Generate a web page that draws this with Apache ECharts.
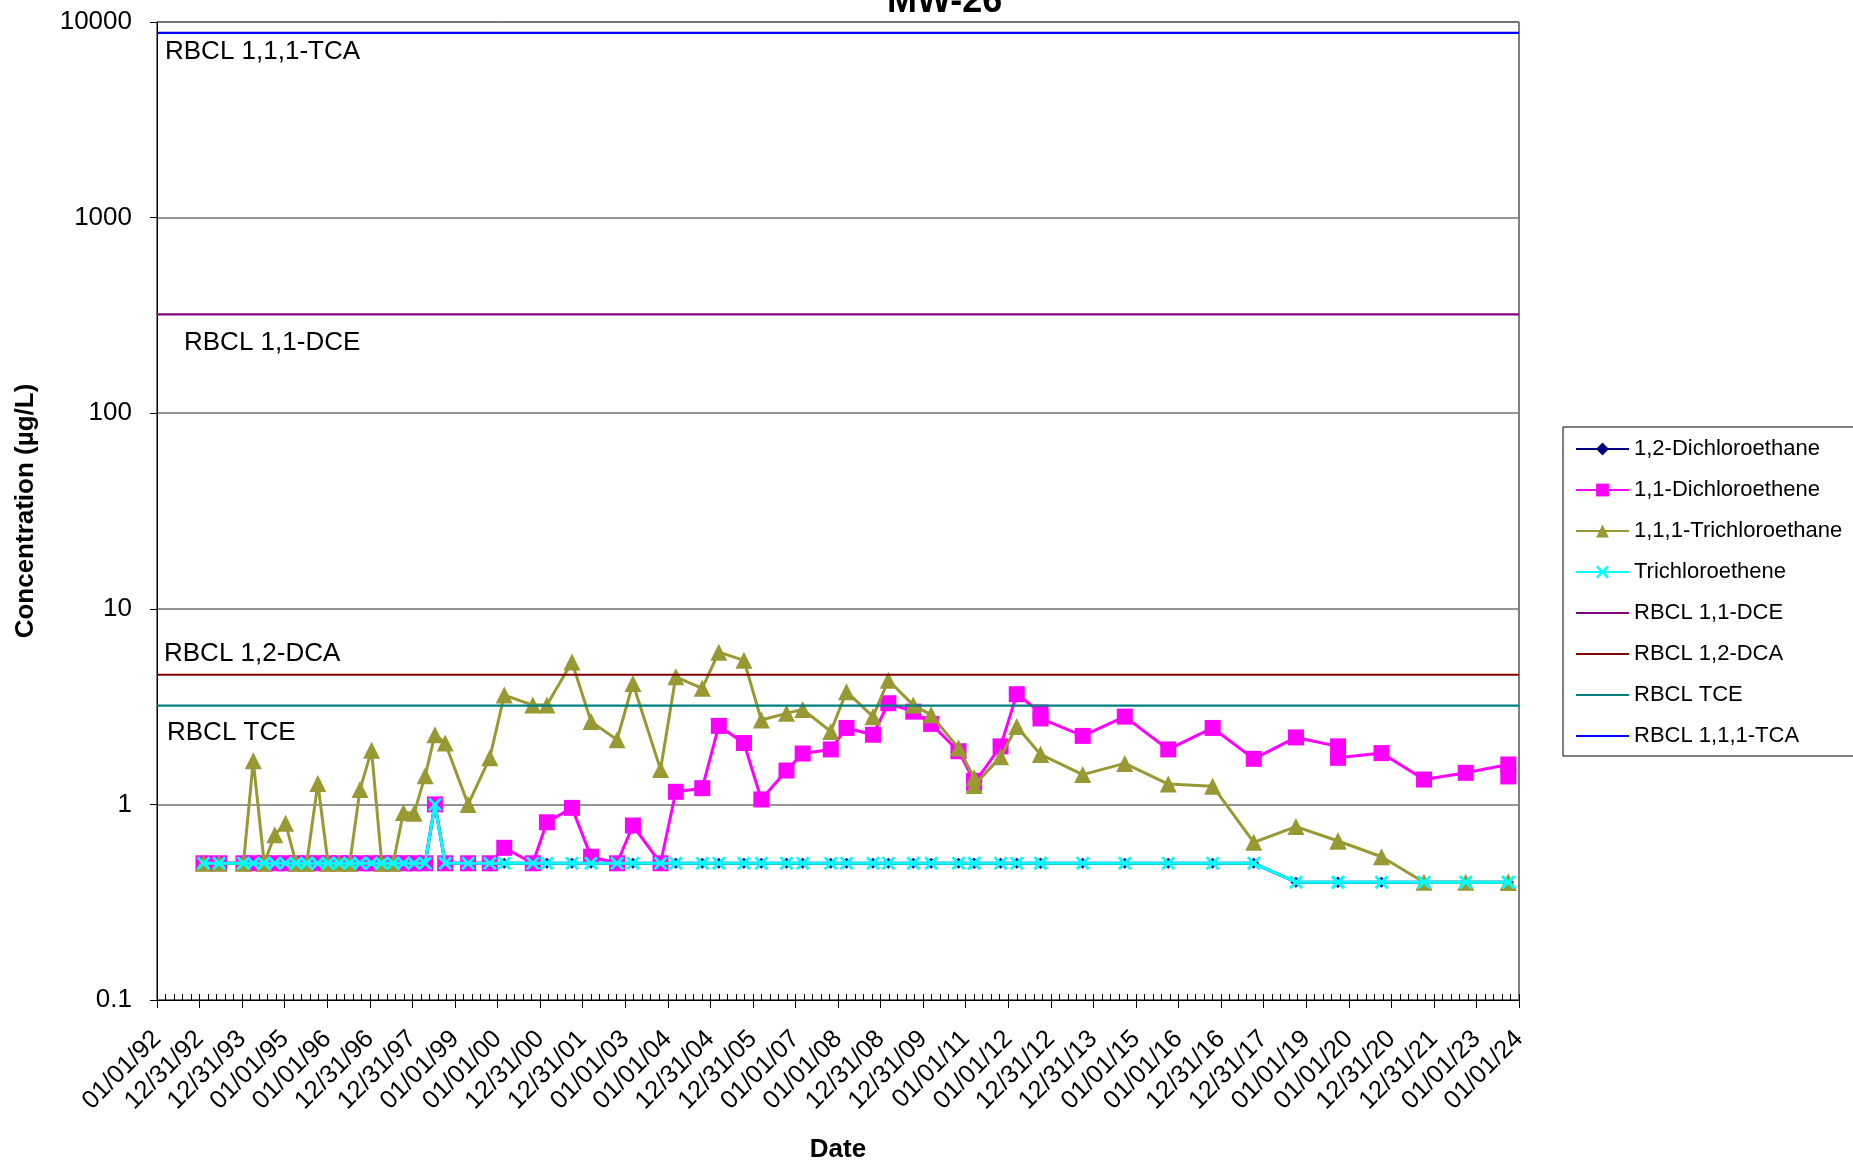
<!DOCTYPE html>
<html><head><meta charset="utf-8">
<script src="https://cdn.jsdelivr.net/npm/echarts@6/dist/echarts.min.js"></script>
<style>html,body{margin:0;padding:0;background:#fff}#c{width:1853px;height:1168px}</style>
</head><body><div id="c"></div>
<script>
// ---------- data ----------
const chartTitle = 'MW-26';
const sampleDates = [
  '1993-02-03','1993-06-17',
  '1994-01-12','1994-04-06','1994-07-09','1994-10-08',
  '1995-01-08','1995-04-09','1995-07-09','1995-10-12',
  '1996-01-08','1996-04-12','1996-07-12','1996-10-08',
  '1997-01-15','1997-04-13','1997-07-19','1997-10-16',
  '1998-01-15','1998-04-20','1998-07-13','1998-10-09',
  '1999-04-24','1999-10-27',
  '2000-02-28','2000-10-30',
  '2001-02-28','2001-10-01',
  '2002-03-14','2002-10-23',
  '2003-03-08','2003-10-31',
  '2004-03-10','2004-10-23',
  '2005-03-14','2005-10-16',
  '2006-03-14','2006-10-16',
  '2007-03-04','2007-10-31',
  '2008-03-14','2008-10-27',
  '2009-03-08','2009-10-08',
  '2010-03-10','2010-10-31',
  '2011-03-14','2011-03-14','2011-10-27',
  '2012-03-14','2012-10-04','2012-10-04',
  '2013-10-01','2014-09-27','2015-10-05','2016-10-20','2017-10-08','2018-10-05',
  '2019-10-01','2019-10-01','2020-10-08','2021-10-08','2022-10-01','2023-10-01','2023-10-01'
];
const dca12 = [0.5,0.5, 0.5,0.5,0.5,0.5, 0.5,0.5,0.5,0.5, 0.5,0.5,0.5,0.5, 0.5,0.5,0.5,0.5,
  0.5,0.5,1.0,0.5, 0.5,0.5, 0.5,0.5, 0.5,0.5, 0.5,0.5, 0.5,0.5, 0.5,0.5, 0.5,0.5, 0.5,0.5,
  0.5,0.5, 0.5,0.5, 0.5,0.5, 0.5,0.5, 0.5,0.5,0.5, 0.5,0.5,0.5, 0.5,0.5,0.5,0.5,0.5,0.4,
  0.4,0.4, 0.4,0.4,0.4, 0.4,0.4];
const dce11 = [0.5,0.5, 0.5,0.5,0.5,0.5, 0.5,0.5,0.5,0.5, 0.5,0.5,0.5,0.5, 0.5,0.5,0.5,0.5,
  0.5,0.5,1.0,0.5, 0.5,0.5, 0.6,0.5, 0.81,0.96, 0.54,0.5, 0.78,0.5, 1.16,1.21, 2.52,2.06,
  1.06,1.49, 1.82,1.91, 2.46,2.27, 3.29,2.98, 2.58,1.87, 1.32,1.28,1.98, 3.66,2.95,2.75,
  2.24,2.81,1.91,2.46,1.71,2.20, 1.98,1.73, 1.83,1.34,1.45, 1.60,1.39];
const tca111 = [0.5,0.5, 0.5,1.67,0.5,0.70, 0.80,0.5,0.5,1.28, 0.5,0.5,0.5,1.19, 1.89,0.5,0.5,0.91,
  0.90,1.40,2.27,2.06, 1.0,1.73, 3.62,3.22, 3.22,5.35, 2.65,2.14, 4.15,1.51, 4.49,3.92, 6.0,5.45,
  2.70,2.92, 3.06,2.36, 3.77,2.81, 4.31,3.22, 2.87,1.94, 1.37,1.25,1.75, 2.5,1.8,1.8,
  1.42,1.62,1.27,1.24,0.64,0.77, 0.65,0.65, 0.54,0.4,0.4, 0.4,0.4];
const tce = [0.5,0.5, 0.5,0.5,0.5,0.5, 0.5,0.5,0.5,0.5, 0.5,0.5,0.5,0.5, 0.5,0.5,0.5,0.5,
  0.5,0.5,1.0,0.5, 0.5,0.5, 0.5,0.5, 0.5,0.5, 0.5,0.5, 0.5,0.5, 0.5,0.5, 0.5,0.5, 0.5,0.5,
  0.5,0.5, 0.5,0.5, 0.5,0.5, 0.5,0.5, 0.5,0.5,0.5, 0.5,0.5,0.5, 0.5,0.5,0.5,0.5,0.5,0.4,
  0.4,0.4, 0.4,0.4,0.4, 0.4,0.4];
const seriesNames = ['1,2-Dichloroethane','1,1-Dichloroethene','1,1,1-Trichloroethane','Trichloroethene'];
const rbclNames = ['RBCL 1,1-DCE','RBCL 1,2-DCA','RBCL TCE','RBCL 1,1,1-TCA'];
const rbclValues = [320, 4.6, 3.2, 8800];
const axisStartDate = '1992-01-01';
const axisEndDate = '2024-01-01';
const majorStepDays = 365.25;
const minorStepDays = 73.05;
const yMin = 0.1, yMax = 10000;

// ---------- helpers ----------
const BASE = Date.UTC(1992, 0, 1);
function dayOf(s) {
  return (Date.UTC(+s.slice(0,4), +s.slice(5,7) - 1, +s.slice(8,10)) - BASE) / 86400000;
}
function pad(n) { return (n < 10 ? '0' : '') + n; }
function fmtDay(v) {
  const d = Math.ceil(v - 0.5 - 1e-6);
  const dt = new Date(BASE + d * 86400000);
  return pad(dt.getUTCMonth() + 1) + '/' + pad(dt.getUTCDate()) + '/' + pad(dt.getUTCFullYear() % 100);
}
const xMin = dayOf(axisStartDate), xMax = dayOf(axisEndDate);
const pts = vals => sampleDates.map((s, i) => [dayOf(s), vals[i]]);

const FONT = '"Liberation Sans", Arial, sans-serif';
const xSym = 'path://M0,1.4 L1.4,0 L5,3.6 L8.6,0 L10,1.4 L6.4,5 L10,8.6 L8.6,10 L5,6.4 L1.4,10 L0,8.6 L3.6,5 Z';

const dataSeries = [
  { vals: dca12, color: '#000080', symbol: 'diamond', size: 11 },
  { vals: dce11, color: '#FF00FF', symbol: 'rect', size: 16 },
  { vals: tca111, color: '#999933', symbol: 'triangle', size: 17 },
  { vals: tce, color: '#00FFFF', symbol: xSym, size: 14 }
].map((d, i) => ({
  name: seriesNames[i], type: 'line', xAxisIndex: 0, yAxisIndex: 0,
  data: pts(d.vals), symbol: d.symbol, symbolSize: d.size, showAllSymbol: true,
  lineStyle: { color: d.color, width: 3 }, itemStyle: { color: d.color, borderWidth: 0 },
  emphasis: { disabled: true }, z: 3 + i
}));
const rbclColors = ['#800080', '#800000', '#008080', '#0000FF'];
const rbclSeries = rbclNames.map((n, i) => ({
  name: n, type: 'line', symbol: 'none', xAxisIndex: 0, yAxisIndex: 0,
  data: [[xMin, rbclValues[i]], [xMax, rbclValues[i]]],
  lineStyle: { color: rbclColors[i], width: 2.2 }, itemStyle: { color: rbclColors[i], opacity: 0 },
  emphasis: { disabled: true }, z: 10
}));

const annotations = [
  { text: 'RBCL 1,1,1-TCA', x: 165, y: 52 },
  { text: 'RBCL 1,1-DCE', x: 184, y: 343 },
  { text: 'RBCL 1,2-DCA', x: 164, y: 654 },
  { text: 'RBCL TCE', x: 167, y: 733 }
];

const chart = echarts.init(document.getElementById('c'), null, { renderer: 'canvas' });
chart.setOption({
  animation: false,
  backgroundColor: '#fff',
  textStyle: { fontFamily: FONT, color: '#000' },
  title: {
    text: chartTitle, left: 882, top: -21,
    textStyle: { fontFamily: FONT, fontSize: 36, fontWeight: 'bold', color: '#000' }
  },
  grid: { left: 157, right: 334, top: 22, height: 986, show: true, borderColor: '#000', borderWidth: 1, containLabel: false },
  legend: {
    orient: 'vertical', left: 1563, top: 427,
    data: seriesNames.concat(rbclNames),
    itemWidth: 53, itemHeight: 16, itemGap: 19,
    padding: [11, 30, 9, 12],
    backgroundColor: '#fff', borderColor: '#000', borderWidth: 1,
    textStyle: { fontFamily: FONT, fontSize: 22, color: '#000', lineHeight: 22 },
    selectedMode: false
  },
  xAxis: [{
    type: 'value', min: xMin, max: xMax, interval: majorStepDays, position: 'bottom',
    name: 'Date', nameLocation: 'middle', nameGap: 137,
    nameTextStyle: { fontFamily: FONT, fontSize: 26, fontWeight: 'bold', color: '#000' },
    axisLine: { show: true, lineStyle: { color: '#000', width: 1 } },
    axisTick: { show: true, inside: false, length: 8, lineStyle: { color: '#000' } },
    axisLabel: { rotate: 45, margin: 35, fontFamily: FONT, fontSize: 25.5, color: '#000', formatter: fmtDay },
    splitLine: { show: false }
  }, {
    type: 'value', min: xMin, max: xMax, interval: minorStepDays, position: 'bottom', offset: 0,
    axisLine: { show: false }, axisLabel: { show: false }, splitLine: { show: false },
    axisTick: { show: true, inside: true, length: 6, lineStyle: { color: '#000' } }
  }],
  yAxis: {
    type: 'log', logBase: 10, min: yMin, max: yMax,
    name: 'Concentration (µg/L)', nameLocation: 'middle', nameGap: 118, nameRotate: 90,
    nameTextStyle: { fontFamily: FONT, fontSize: 26, fontWeight: 'bold', color: '#000' },
    axisLine: { show: true, lineStyle: { color: '#000', width: 1 } },
    axisTick: { show: true, inside: false, length: 7, lineStyle: { color: '#000' } },
    axisLabel: { margin: 25, fontFamily: FONT, fontSize: 26, color: '#000',
      formatter: v => String(+(+v).toPrecision(6)) },
    splitLine: { show: true, lineStyle: { color: '#707070', width: 1.5 } }
  },
  graphic: annotations.map(a => ({
    type: 'text', x: a.x, y: a.y, z: 100,
    style: { text: a.text, fontFamily: FONT, fontSize: 26, fill: '#000', verticalAlign: 'middle', align: 'left' }
  })),
  series: dataSeries.concat(rbclSeries)
});
</script>
</body></html>
